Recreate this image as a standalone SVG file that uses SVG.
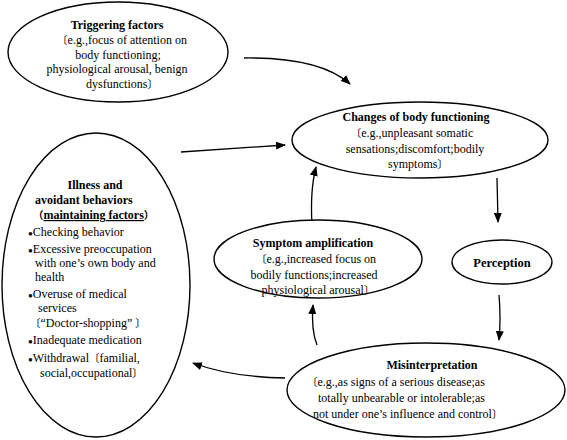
<svg xmlns="http://www.w3.org/2000/svg" width="567" height="440" viewBox="0 0 567 440">
<style>
.node{fill:#fff;stroke:#000;stroke-width:1.4}
.t{font-family:"Liberation Serif",serif;font-size:12px;fill:#000}
.b{font-weight:bold}
.c{text-anchor:middle}
.cjk{font-family:"Noto Sans CJK SC",sans-serif;font-size:10.5px}
.bul{font-size:8px}
.conn{fill:none;stroke:#000;stroke-width:1.3}
</style>
<defs>
<marker id="ah" markerUnits="userSpaceOnUse" markerWidth="10" markerHeight="8" refX="9" refY="4" orient="auto">
<path d="M0,0 L10,4 L0,8 Z" fill="#000"/>
</marker>
</defs>
<rect width="567" height="440" fill="#fff"/>
<g id="connectors">
<path class="conn" d="M244,58 Q320,57 350,84" marker-end="url(#ah)"/>
<path class="conn" d="M181,152 L285,145" marker-end="url(#ah)"/>
<path class="conn" d="M497,178 L498,222" marker-end="url(#ah)"/>
<path class="conn" d="M499,295 Q501,318 499,340" marker-end="url(#ah)"/>
<path class="conn" d="M317,345 Q311,330 313,305" marker-end="url(#ah)"/>
<path class="conn" d="M312,225 Q310,190 316,167" marker-end="url(#ah)"/>
<path class="conn" d="M285,378 Q230,377 193,363" marker-end="url(#ah)"/>
</g>
<g id="triggering">
<ellipse class="node" cx="118" cy="52" rx="110" ry="50"/>
<text class="t b c" x="117" y="29">Triggering factors</text>
<text class="t c" x="122" y="44"><tspan class="cjk">〔</tspan>e.g.,focus of attention on</text>
<text class="t c" x="118" y="59">body functioning;</text>
<text class="t c" x="117" y="73">physiological arousal, benign</text>
<text class="t c" x="122" y="88">dysfunctions<tspan class="cjk">〕</tspan></text>
</g>
<g id="changes">
<ellipse class="node" cx="420" cy="140" rx="128" ry="38"/>
<text class="t b c" x="416" y="121">Changes of body functioning</text>
<text class="t c" x="412" y="137"><tspan class="cjk">〔</tspan>e.g.,unpleasant somatic</text>
<text class="t c" x="415" y="153">sensations;discomfort;bodily</text>
<text class="t c" x="418" y="168">symptoms<tspan class="cjk">〕</tspan></text>
</g>
<g id="illness">
<ellipse class="node" cx="96" cy="285" rx="94" ry="152"/>
<text class="t b c" x="95" y="189">Illness and</text>
<text class="t b" x="35" y="204">avoidant behaviors</text>
<text class="t b" x="33" y="219"><tspan class="cjk">（</tspan><tspan text-decoration="underline">maintaining factors</tspan><tspan class="cjk">）</tspan></text>
<text class="t" x="28" y="236"><tspan class="bul">●</tspan>Checking behavior</text>
<text class="t" x="28" y="253"><tspan class="bul">●</tspan>Excessive preoccupation</text>
<text class="t" x="35" y="267">with one’s own body and</text>
<text class="t" x="35" y="281">health</text>
<text class="t" x="28" y="298"><tspan class="bul">●</tspan>Overuse of medical</text>
<text class="t" x="38" y="312">services</text>
<text class="t" x="30" y="327"><tspan class="cjk">〔</tspan>“Doctor-shopping” <tspan class="cjk">〕</tspan></text>
<text class="t" x="28" y="344"><tspan class="bul">●</tspan>Inadequate medication</text>
<text class="t" x="28" y="362"><tspan class="bul">●</tspan>Withdrawal<tspan class="cjk">〔</tspan>familial,</text>
<text class="t" x="40" y="377">social,occupational<tspan class="cjk">〕</tspan></text>
</g>
<g id="symptom">
<ellipse class="node" cx="318" cy="259" rx="104" ry="39"/>
<text class="t b c" x="313" y="247">Symptom amplification</text>
<text class="t c" x="316" y="263"><tspan class="cjk">〔</tspan>e.g.,increased focus on</text>
<text class="t c" x="314" y="279">bodily functions;increased</text>
<text class="t c" x="318" y="294">physiological arousal<tspan class="cjk">〕</tspan></text>
</g>
<g id="perception">
<ellipse class="node" cx="502" cy="262" rx="50" ry="22"/>
<text class="t b c" x="502" y="267" style="font-size:12.5px">Perception</text>
</g>
<g id="misinterpretation">
<ellipse class="node" cx="426" cy="390" rx="139" ry="47"/>
<text class="t b c" x="432" y="369">Misinterpretation</text>
<text class="t" x="307" y="386"><tspan class="cjk">〔</tspan>e.g.,as signs of a serious disease;as</text>
<text class="t" x="318" y="402">totally unbearable or intolerable;as</text>
<text class="t" x="313" y="418">not under one’s influence and control<tspan class="cjk">〕</tspan></text>
</g>
</svg>
